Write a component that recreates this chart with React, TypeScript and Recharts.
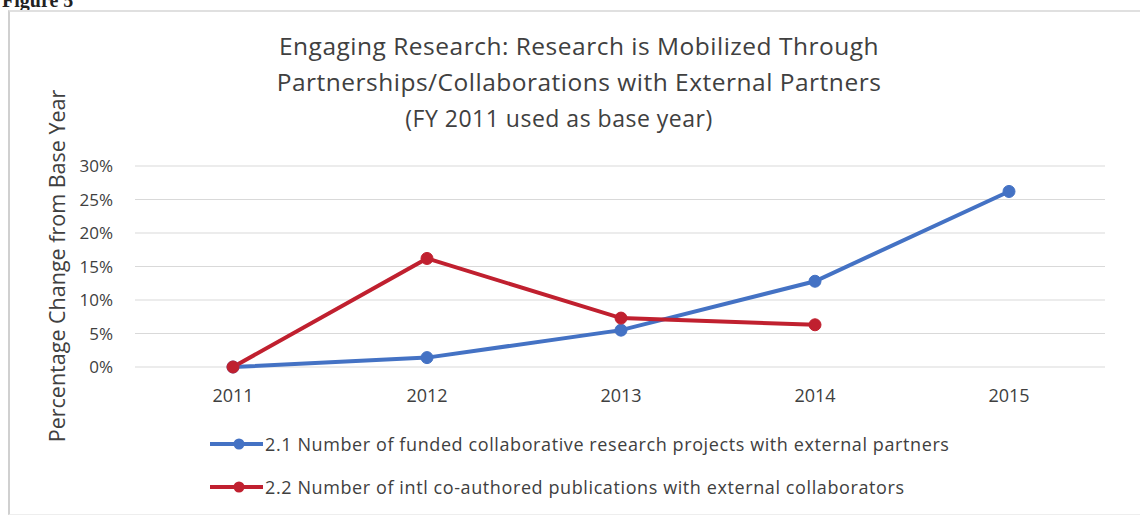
import { LineChart, Line, XAxis, YAxis, CartesianGrid } from "recharts";

const years = ["2011", "2012", "2013", "2014", "2015"];
const projects = [0, 1.4, 5.5, 12.8, 26.2];
const publications: (number | null)[] = [0, 16.2, 7.3, 6.3, null];
const yTicks = [0, 5, 10, 15, 20, 25, 30];

const seriesNames = [
  "2.1 Number of funded collaborative research projects with external partners",
  "2.2 Number of intl co-authored publications with external collaborators",
];

const BLUE = "#4472C4";
const RED = "#C0202F";
const FONT = "'Open Sans', 'Noto Sans', sans-serif";

const data = years.map((y, i) => ({
  year: y,
  projects: projects[i],
  publications: publications[i],
}));

const LegendBox = () => (
  <div style={{ fontFamily: FONT, fontSize: 18, letterSpacing: 0.6, color: "#404040" }}>
    {[BLUE, RED].map((c, i) => (
      <div key={i} style={{ display: "flex", alignItems: "center", height: 43 }}>
        <svg width={55} height={14}>
          <line x1={0} y1={7} x2={53} y2={7} stroke={c} strokeWidth={4} />
          <circle cx={29} cy={7} r={5.5} fill={c} />
        </svg>
        <span style={{ whiteSpace: "nowrap" }}>{seriesNames[i]}</span>
      </div>
    ))}
  </div>
);

export default function App() {
  return (
    <div
      style={{
        position: "absolute",
        left: 0,
        top: 0,
        width: 1140,
        height: 515,
        background: "#fff",
        overflow: "hidden",
      }}
    >
      <div
        style={{
          position: "absolute",
          left: 2,
          top: -11,
          fontFamily: "'Liberation Serif', serif",
          fontWeight: "bold",
          fontSize: 20,
          color: "#222",
        }}
      >
        Figure 5
      </div>
      <div
        style={{
          position: "absolute",
          left: 8,
          top: 10,
          width: 1140,
          height: 502,
          borderLeft: "2px solid #d0d0d0",
          borderTop: "2px solid #e0e0e0",
          borderBottom: "1px solid #eee",
        }}
      />
      <div
        style={{
          position: "absolute",
          left: 0,
          top: 28,
          width: 1158,
          textAlign: "center",
          fontFamily: FONT,
          fontSize: 24.5,
          letterSpacing: 0.5,
          color: "#404040",
          lineHeight: "36px",
        }}
      >
        <div>Engaging Research: Research is Mobilized Through</div>
        <div>Partnerships/Collaborations with External Partners</div>
        <div style={{ fontSize: 23, marginLeft: -40 }}>(FY 2011 used as base year)</div>
      </div>
      <div
        style={{
          position: "absolute",
          left: 56,
          top: 266,
          transform: "translate(-50%, -50%) rotate(-90deg)",
          whiteSpace: "nowrap",
          fontFamily: FONT,
          fontSize: 21.5,
          color: "#404040",
        }}
      >
        Percentage Change from Base Year
      </div>
      <div style={{ position: "absolute", left: 0, top: 0 }}>
        <LineChart
          width={1140}
          height={515}
          data={data}
          margin={{ top: 166, right: 35, bottom: 118, left: 0 }}
        >
          <CartesianGrid vertical={false} stroke="#d9d9d9" strokeWidth={1} />
          <XAxis
            dataKey="year"
            axisLine={false}
            tickLine={false}
            tickSize={0}
            tickMargin={22}
            height={30}
            padding={{ left: 98, right: 96 }}
            tick={{ fill: "#404040", fontSize: 18, fontFamily: FONT }}
          />
          <YAxis
            domain={[0, 30]}
            ticks={yTicks}
            width={135}
            axisLine={false}
            tickLine={false}
            tickSize={0}
            tickMargin={22}
            tickFormatter={(v: number) => `${v}%`}
            tick={{ fill: "#404040", fontSize: 17, fontFamily: FONT }}
          />
          <Line
            dataKey="projects"
            name={seriesNames[0]}
            stroke={BLUE}
            strokeWidth={4}
            dot={{ r: 6, fill: BLUE, stroke: BLUE, strokeWidth: 1 }}
            isAnimationActive={false}
          />
          <Line
            dataKey="publications"
            name={seriesNames[1]}
            stroke={RED}
            strokeWidth={4}
            dot={{ r: 6, fill: RED, stroke: RED, strokeWidth: 1 }}
            isAnimationActive={false}
          />
        </LineChart>
      </div>
      <div style={{ position: "absolute", left: 210, top: 422 }}>
        <LegendBox />
      </div>
    </div>
  );
}
